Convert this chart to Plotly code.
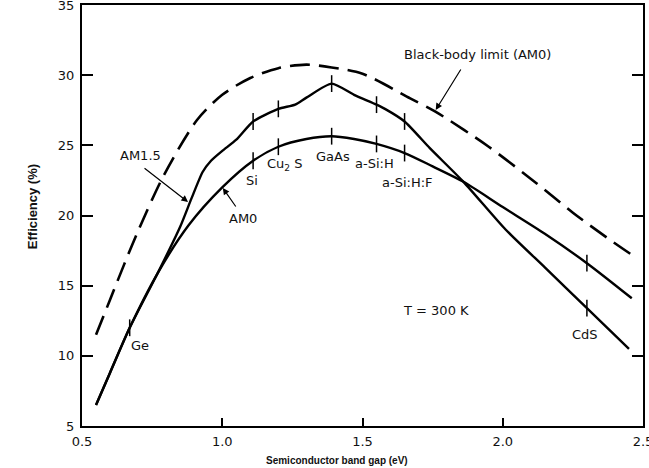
import numpy as np
import plotly.graph_objects as go

# ---- data ----
# Black-body limit (AM0), dashed
bb_gap = [0.55, 0.6, 0.65, 0.7, 0.79, 0.91, 1.0, 1.1, 1.2, 1.3, 1.39, 1.5, 1.67, 1.76, 1.95, 2.12, 2.25, 2.38, 2.46]
bb_eff = [11.5, 14.0, 16.5, 18.9, 22.8, 26.8, 28.6, 29.8, 30.5, 30.75, 30.55, 30.1, 28.35, 27.4, 24.9, 22.3, 20.2, 18.3, 17.2]

# AM1.5 curve (upper solid)
am15_gap = [0.55, 0.6, 0.67, 0.77, 0.85, 0.89, 0.93, 0.96, 1.0, 1.05, 1.11, 1.2, 1.26, 1.3, 1.39, 1.47, 1.55, 1.58, 1.65, 1.74, 1.86, 2.01, 2.15, 2.3, 2.45]
am15_eff = [6.5, 8.8, 12.0, 15.9, 19.2, 21.2, 23.1, 23.9, 24.6, 25.4, 26.7, 27.6, 27.9, 28.4, 29.4, 28.6, 27.9, 27.6, 26.7, 24.8, 22.4, 19.0, 16.3, 13.4, 10.5]

# AM0 curve (lower solid)
am0_gap = [0.55, 0.6, 0.67, 0.77, 0.88, 1.0, 1.11, 1.2, 1.3, 1.39, 1.47, 1.55, 1.65, 1.75, 1.86, 2.0, 2.15, 2.3, 2.46]
am0_eff = [6.5, 8.8, 12.0, 15.9, 19.3, 22.0, 23.9, 24.9, 25.45, 25.65, 25.45, 25.1, 24.45, 23.5, 22.4, 20.6, 18.7, 16.6, 14.1]

# materials marked on the curves
materials = ["Ge", "Si", "Cu<sub>2</sub> S", "GaAs", "a-Si:H", "a-Si:H:F", "CdS"]
mat_gap = [0.67, 1.11, 1.2, 1.39, 1.55, 1.65, 2.3]

x_ticks = [0.5, 1.0, 1.5, 2.0, 2.5]
x_ticktext = ["0.5", "1.0", "1.5", "2.0", "2.5"]
y_ticks = [5, 10, 15, 20, 25, 30, 35]

FONT = "DejaVu Sans, Liberation Sans, Arial, sans-serif"
TITLE_FONT = "Liberation Sans, Arial, sans-serif"

fig = go.Figure()

fig.add_trace(go.Scatter(x=bb_gap, y=bb_eff, mode="lines",
                         line=dict(color="black", width=2.6, dash="20px,9px", shape="spline", smoothing=0.8),
                         hoverinfo="skip"))
fig.add_trace(go.Scatter(x=am15_gap, y=am15_eff, mode="lines",
                         line=dict(color="black", width=2.4, shape="spline", smoothing=0.6),
                         hoverinfo="skip"))
fig.add_trace(go.Scatter(x=am0_gap, y=am0_eff, mode="lines",
                         line=dict(color="black", width=2.4, shape="spline", smoothing=0.8),
                         hoverinfo="skip"))

# short vertical tick marks at material band gaps
tick_x = mat_gap + mat_gap[1:]
tick_y = list(np.interp(mat_gap, am15_gap, am15_eff)) + list(np.interp(mat_gap[1:], am0_gap, am0_eff))
fig.add_trace(go.Scatter(x=tick_x, y=tick_y, mode="markers",
                         marker=dict(symbol="line-ns", size=12, line=dict(color="black", width=1.5)),
                         hoverinfo="skip"))

ann = []
def label(text, x, y, size=13, **kw):
    ann.append(dict(text=text, x=x, y=y, xref="x", yref="y", showarrow=False,
                    font=dict(family=FONT, size=size, color="#111"), **kw))

def arrow(x, y, ax, ay):
    ann.append(dict(text="", x=x, y=y, xref="x", yref="y", ax=ax, ay=ay,
                    showarrow=True, arrowhead=2, arrowsize=1.1, arrowwidth=1.2, arrowcolor="black"))

# material labels
label(materials[0], 0.707, 10.77)
label(materials[1], 1.107, 22.53)
label(materials[2], 1.223, 23.6)
label(materials[3], 1.394, 24.17)
label(materials[4], 1.544, 23.74)
label(materials[5], 1.66, 22.38)
label(materials[6], 2.292, 11.55)

# curve names
label("Black-body limit (AM0)", 1.911, 31.44)
label("AM1.5", 0.71, 24.3)
label("AM0", 1.074, 19.82)
label("T = 300 K", 1.761, 13.26)

arrow(1.761, 27.52, 26, -42)
arrow(0.878, 20.96, -45, -35)
arrow(1.002, 21.96, 14, 20)

# axis titles
ann.append(dict(text="<b>Semiconductor band gap (eV)</b>", x=0.4545, y=-0.081, xref="paper", yref="paper",
                showarrow=False, xanchor="center", yanchor="middle",
                font=dict(family=TITLE_FONT, size=10, color="#111")))
ann.append(dict(text="<b>Efficiency (%)</b>", x=-0.089, y=0.52, xref="paper", yref="paper",
                showarrow=False, xanchor="center", yanchor="middle", textangle=-90,
                font=dict(family=TITLE_FONT, size=13, color="#111")))

fig.update_layout(
    width=649, height=468,
    margin=dict(l=82, r=6, t=5, b=42, autoexpand=False),
    paper_bgcolor="white", plot_bgcolor="white",
    showlegend=False,
    annotations=ann,
    font=dict(family=FONT, size=13, color="#111"),
)
fig.update_xaxes(range=[0.5, 2.5], tickvals=x_ticks, ticktext=x_ticktext,
                 ticks="inside", ticklen=8, tickwidth=1.5, tickcolor="black",
                 ticklabeloverflow="allow", ticklabelstandoff=2, automargin=False,
                 showline=True, linecolor="black", linewidth=2, mirror=True,
                 showgrid=False, zeroline=False, tickfont=dict(family=FONT, size=13, color="#111"))
fig.update_yaxes(range=[5, 35], tickvals=y_ticks,
                 ticks="inside", ticklen=11, tickwidth=1.5, tickcolor="black",
                 ticklabeloverflow="allow", ticklabelstandoff=3, automargin=False,
                 showline=True, linecolor="black", linewidth=2, mirror="ticks",
                 showgrid=False, zeroline=False, tickfont=dict(family=FONT, size=13, color="#111"))

fig.write_html("out.html")
